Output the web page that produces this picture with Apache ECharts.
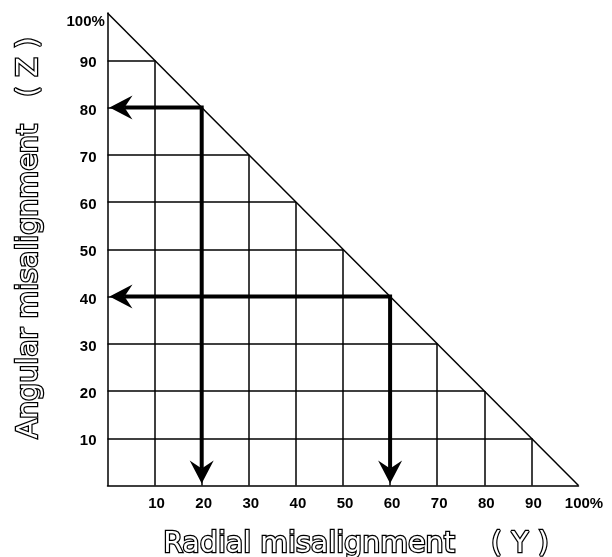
<!DOCTYPE html>
<html>
<head>
<meta charset="utf-8">
<script src="https://cdn.jsdelivr.net/npm/echarts@6/dist/echarts.min.js"></script>
<style>
  html, body { margin: 0; padding: 0; background: #fff; }
  #chart { width: 612px; height: 557px; }
</style>
</head>
<body>
<div id="chart"></div>
<script>
// axis ticks (percent)
const ticks = [10, 20, 30, 40, 50, 60, 70, 80, 90];
const hypotenuse = [[0, 100], [100, 0]];
// the two worked examples: point on the diagonal ->
const examplePoints = [[20, 80], [60, 40]];

const xName = 'Radial misalignment    ( Y )';
const yName = 'Angular misalignment   ( Z )';

// grid cells only under the diagonal
const gridSegments = [];
ticks.forEach(t => {
  gridSegments.push({ coords: [[0, t], [100 - t, t]] });
  gridSegments.push({ coords: [[t, 0], [t, 100 - t]] });
});
gridSegments.push({ coords: hypotenuse });

const titleStyle = {
  fontFamily: 'DejaVu Sans, sans-serif',
  fontSize: 28.5,
  color: '#fff',
  textBorderColor: '#000',
  textBorderWidth: 2.5
};
const labelStyle = {
  fontFamily: 'Liberation Sans, Arial, sans-serif',
  fontWeight: 'bold',
  fontSize: 15,
  color: '#000'
};

function labelFmt(v) {
  if (v === 0) return '';
  if (v === 100) return '{end|100%}';
  return String(v);
}

// arrow: thick leader lines with concave heads, placed from data coords
function renderArrow(params, api) {
  const x = api.value(0), y = api.value(1);
  const p = api.coord([x, y]);
  const l = api.coord([0, y]);
  const b = api.coord([x, 0]);
  const tl = [l[0] + 2, l[1]];
  const tb = [b[0], b[1] - 2];
  const len = 23, half = 12, notch = 15;
  return {
    type: 'group',
    children: [
      {
        type: 'polyline',
        shape: { points: [[tl[0] + notch, tl[1]], p, [tb[0], tb[1] - notch]] },
        style: { stroke: '#000', lineWidth: 4, fill: null, lineJoin: 'miter' }
      },
      {
        type: 'polygon',
        shape: { points: [tl, [tl[0] + len, tl[1] - half], [tl[0] + notch, tl[1]], [tl[0] + len, tl[1] + half]] },
        style: { fill: '#000' }
      },
      {
        type: 'polygon',
        shape: { points: [tb, [tb[0] - half, tb[1] - len], [tb[0], tb[1] - notch], [tb[0] + half, tb[1] - len]] },
        style: { fill: '#000' }
      }
    ]
  };
}

const chart = echarts.init(document.getElementById('chart'));
chart.setOption({
  animation: false,
  grid: { left: 107.5, right: 33.5, top: 13, bottom: 71.5, outerBoundsMode: 'none', containLabel: false },
  xAxis: {
    type: 'value', min: 0, max: 100, interval: 10,
    name: xName, nameLocation: 'middle', nameGap: 45,
    nameTextStyle: Object.assign({ padding: [0, 0, 0, 26] }, titleStyle),
    axisLine: { lineStyle: { color: '#000', width: 1.5 } },
    axisTick: { show: false },
    splitLine: { show: false },
    axisLabel: Object.assign({
      margin: 11,
      padding: [0, 0, 0, 4],
      formatter: labelFmt,
      rich: { end: Object.assign({ padding: [0, 0, 0, 7] }, labelStyle) }
    }, labelStyle)
  },
  yAxis: {
    type: 'value', min: 0, max: 100, interval: 10,
    name: yName, nameLocation: 'middle', nameGap: 63,
    nameTextStyle: Object.assign({ padding: [0, 0, 0, 23] }, titleStyle),
    axisLine: { lineStyle: { color: '#000', width: 1.5 } },
    axisTick: { show: false },
    splitLine: { show: false },
    axisLabel: Object.assign({
      margin: 11,
      padding: [6, 0, 0, 0],
      formatter: labelFmt,
      rich: { end: Object.assign({ width: 30, align: 'left', padding: [12, 0, 0, 0] }, labelStyle) }
    }, labelStyle)
  },
  series: [
    {
      type: 'lines',
      coordinateSystem: 'cartesian2d',
      data: gridSegments,
      lineStyle: { color: '#000', width: 1.5, opacity: 1 },
      silent: true,
      z: 2
    },
    {
      type: 'custom',
      data: examplePoints,
      renderItem: renderArrow,
      silent: true,
      z: 5
    }
  ]
});
</script>
</body>
</html>
